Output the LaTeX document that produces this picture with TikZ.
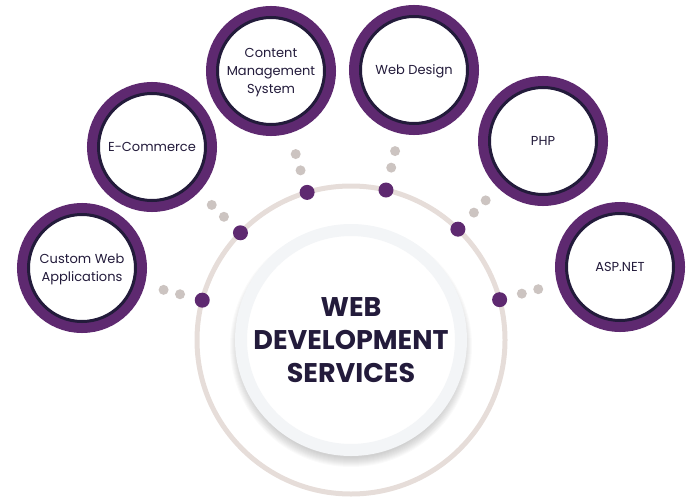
\documentclass[tikz,border=0pt]{standalone}
\usepackage{fontspec}
\setmainfont{Poppins}
\usetikzlibrary{calc}
\definecolor{grape}{HTML}{5E2970}
\definecolor{ink}{HTML}{231B3B}
\definecolor{sand}{HTML}{E6DDD9}
\definecolor{pebble}{HTML}{CCC4C1}
\definecolor{mist}{HTML}{F3F5F7}

\begin{document}
\begin{tikzpicture}[x=1pt,y=-1pt]
    \newcommand{\ringrad}{154pt} % radius of the big ring
    \newcommand{\hubrad}{7.5pt} % radii of the purple dots
    \newcommand{\linkrad}{5pt} % radii of the grey dots

    % set the styles of the circles
    \tikzset{
        core/.style={
            circle, minimum size=220pt, inner sep=0pt,
            fill=white, draw=mist, line width=12pt,
            text=ink, align=center,
            font=\fontsize{27}{33}\selectfont\bfseries
            },
        service/.style={
            circle, minimum size=107pt, inner sep=0pt,
            fill=white, draw=ink, line width=3pt,
            preaction={draw=grape, line width=23pt},
            text=ink, align=center, text depth=0pt,
            font=\fontsize{13}{18}\selectfont
            },
        hub/.style={circle, fill=grape, inner sep=0pt, minimum size=2*\hubrad},
        ring/.style={draw=sand, line width=5pt}
    }

    \useasboundingbox (0,0) rectangle (700,500);

    % soft shadow below the centre
    \foreach \s in {0,...,9}
        \fill[black, opacity=0.02] (351,346) circle (112pt+\s*1pt);

    % centre and ring
    \node[core] (core) at (351,340) {WEB\\DEVELOPMENT\\SERVICES};
    \draw[ring] (core.center) circle (\ringrad);

    % services
    \node[service] (custom) at (82,268) {Custom Web\\Applications};
    \node[service] (ecom) at (152,147) {E-Commerce};
    \node[service] (cms) at (271,71) {Content\\Management\\System};
    \node[service] (design) at (414,70) {Web Design};
    \node[service] (php) at (543,141) {PHP};
    \node[service] (asp) at (620,267) {ASP.NET};

    % dots from the ring to the services
    \foreach \sat in {custom,ecom,cms,design,php,asp}{
        \node[hub] (hub-\sat) at ($(core.center)!\ringrad!(\sat.center)$) {};
        \fill[pebble] ($(hub-\sat)!23pt!(\sat.center)$) circle (\linkrad);
        \fill[pebble] ($(hub-\sat)!40pt!(\sat.center)$) circle (\linkrad);
    }
\end{tikzpicture}
\end{document}
